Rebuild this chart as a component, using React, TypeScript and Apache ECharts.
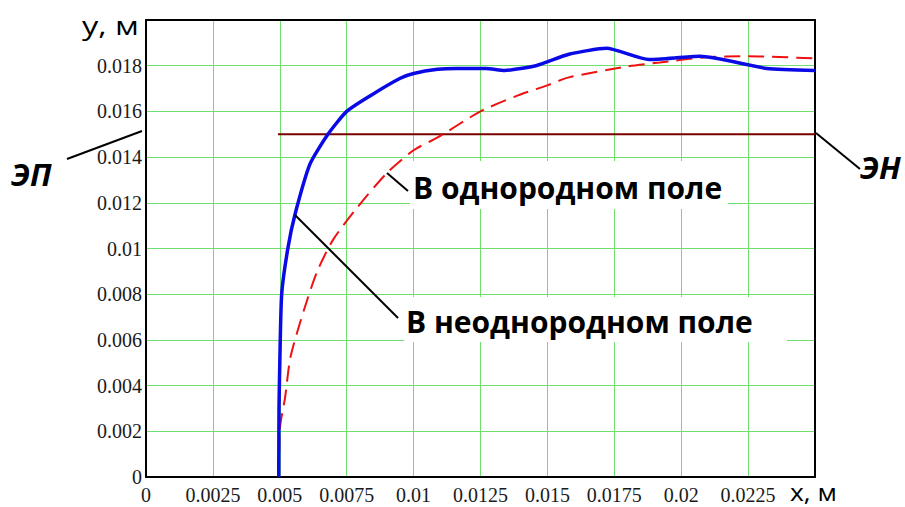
import React, { useEffect, useRef } from "react";
import * as echarts from "echarts";

const xTickLabels = ["0", "0.0025", "0.005", "0.0075", "0.01", "0.0125", "0.015", "0.0175", "0.02", "0.0225"];
const yTickLabels = ["0", "0.002", "0.004", "0.006", "0.008", "0.01", "0.012", "0.014", "0.016", "0.018"];

// В неоднородном поле (blue, solid)
const blueX = [0.00496, 0.00497, 0.005, 0.00507, 0.0053, 0.00557, 0.00613, 0.0068, 0.0075, 0.0084, 0.0095, 0.01, 0.0109, 0.0116, 0.0127, 0.0134, 0.0146, 0.0158, 0.0172, 0.0188, 0.0207, 0.0232, 0.025];
const blueY = [0, 0.003, 0.005, 0.008, 0.01, 0.0115, 0.0137, 0.015, 0.016, 0.0167, 0.01745, 0.01766, 0.01784, 0.01788, 0.01788, 0.01779, 0.01801, 0.0185, 0.01876, 0.01827, 0.01841, 0.01788, 0.01779];

// В однородном поле (red, dashed)
const redX = [0.00497, 0.005, 0.0052, 0.0054, 0.0059, 0.0064, 0.007, 0.0079, 0.009, 0.01, 0.0109, 0.0125, 0.0139, 0.015, 0.0158, 0.018, 0.0192, 0.0208, 0.0225, 0.025];
const redY = [0, 0.0021, 0.0035, 0.00525, 0.0073, 0.009, 0.0104, 0.0118, 0.0133, 0.0143, 0.01486, 0.016, 0.0167, 0.01714, 0.01749, 0.01797, 0.01814, 0.01836, 0.01841, 0.01832];

// ЭН level line
const enX = [0.00493, 0.025];
const enY = [0.015, 0.015];

const X_STEP = 0.0025;
const Y_STEP = 0.002;

export default function App() {
  const ref = useRef<HTMLDivElement>(null);
  useEffect(() => {
    document.body.style.margin = "0";
    const chart = echarts.init(ref.current!, undefined, { renderer: "svg" });
    const tickFont = "'Liberation Serif', 'Times New Roman', serif";
    const sans = "'Open Sans', sans-serif";
    const grid = { left: 146, top: 20, width: 669, height: 457 };
    chart.setOption({
      animation: false,
      backgroundColor: "#ffffff",
      grid: { ...grid },
      xAxis: [
        {
          type: "value",
          min: 0,
          max: 0.025,
          interval: X_STEP,
          axisLine: { show: true, onZero: false, lineStyle: { color: "#000", width: 2 } },
          axisTick: { show: false },
          splitLine: { show: true, lineStyle: { color: "#6fdf6f", width: 1 } },
          axisLabel: {
            margin: 8,
            color: "#1a1a1a",
            fontFamily: tickFont,
            fontSize: 20,
            formatter: (v: number) => xTickLabels[Math.round(v / X_STEP)] ?? "",
          },
        },
        {
          type: "value",
          position: "top",
          min: 0,
          max: 0.025,
          interval: X_STEP,
          axisLine: { show: true, onZero: false, lineStyle: { color: "#000", width: 2 } },
          axisTick: { show: false },
          axisLabel: { show: false },
          splitLine: { show: false },
        },
      ],
      yAxis: [
        {
          type: "value",
          min: 0,
          max: 0.02,
          interval: Y_STEP,
          axisLine: { show: true, onZero: false, lineStyle: { color: "#000", width: 2 } },
          axisTick: { show: false },
          splitLine: { show: true, lineStyle: { color: "#6fdf6f", width: 1 } },
          axisLabel: {
            margin: 4,
            color: "#1a1a1a",
            fontFamily: tickFont,
            fontSize: 20,
            formatter: (v: number) => yTickLabels[Math.round(v / Y_STEP)] ?? "",
          },
        },
        {
          type: "value",
          position: "right",
          min: 0,
          max: 0.02,
          interval: Y_STEP,
          axisLine: { show: true, onZero: false, lineStyle: { color: "#000", width: 2 } },
          axisTick: { show: false },
          axisLabel: { show: false },
          splitLine: { show: false },
        },
      ],
      series: [
        {
          name: "ЭН",
          type: "line",
          data: enX.map((x, i) => [x, enY[i]]),
          symbol: "none",
          lineStyle: { color: "#7a0000", width: 2 },
          z: 3,
        },
        {
          name: "В однородном поле",
          type: "line",
          data: redX.map((x, i) => [x, redY[i]]),
          symbol: "none",
          smooth: 0.25,
          lineStyle: { color: "#ee1111", width: 2, type: [16, 8] },
          z: 4,
        },
        {
          name: "В неоднородном поле",
          type: "line",
          data: blueX.map((x, i) => [x, blueY[i]]),
          symbol: "none",
          smooth: 0.2,
          lineStyle: { color: "#0a0ae6", width: 3.5 },
          z: 5,
        },
      ],
      graphic: [
        { type: "rect", z: 100, shape: { x: 410, y: 161, width: 318, height: 48 }, style: { fill: "#fff" } },
        { type: "rect", z: 100, shape: { x: 404, y: 297, width: 383, height: 45 }, style: { fill: "#fff" } },
        {
          type: "text", z: 101, x: 413, y: 187,
          style: { text: "В однородном поле", fontFamily: sans, fontWeight: "bold", fontSize: 30, fill: "#000", verticalAlign: "middle" },
        },
        {
          type: "text", z: 101, x: 406, y: 321,
          style: { text: "В неоднородном поле", fontFamily: sans, fontWeight: "bold", fontSize: 30, fill: "#000", verticalAlign: "middle" },
        },
        { type: "line", z: 101, shape: { x1: 387, y1: 173, x2: 408, y2: 191 }, style: { stroke: "#000", lineWidth: 2 } },
        { type: "line", z: 101, shape: { x1: 295, y1: 215, x2: 398, y2: 318 }, style: { stroke: "#000", lineWidth: 2 } },
        { type: "line", z: 101, shape: { x1: 67, y1: 159, x2: 142, y2: 131 }, style: { stroke: "#000", lineWidth: 2 } },
        { type: "line", z: 101, shape: { x1: 816, y1: 133, x2: 860, y2: 169 }, style: { stroke: "#000", lineWidth: 2 } },
        {
          type: "text", z: 101, x: 11, y: 174,
          style: { text: "ЭП", fontFamily: sans, fontWeight: "bold", fontStyle: "italic", fontSize: 31, fill: "#000", verticalAlign: "middle" },
        },
        {
          type: "text", z: 101, x: 860, y: 167,
          style: { text: "ЭН", fontFamily: sans, fontWeight: "bold", fontStyle: "italic", fontSize: 31, fill: "#000", verticalAlign: "middle" },
        },
        {
          type: "text", z: 101, x: 82, y: 25, scaleX: 1.3,
          style: { text: "y, м", fontFamily: sans, fontSize: 25, fill: "#000", verticalAlign: "middle" },
        },
        {
          type: "text", z: 101, x: 790, y: 491, scaleX: 1.1,
          style: { text: "x, м", fontFamily: sans, fontSize: 24, fill: "#000", verticalAlign: "middle" },
        },
      ],
    });
    return () => chart.dispose();
  }, []);
  return <div ref={ref} style={{ width: 905, height: 507 }} />;
}
